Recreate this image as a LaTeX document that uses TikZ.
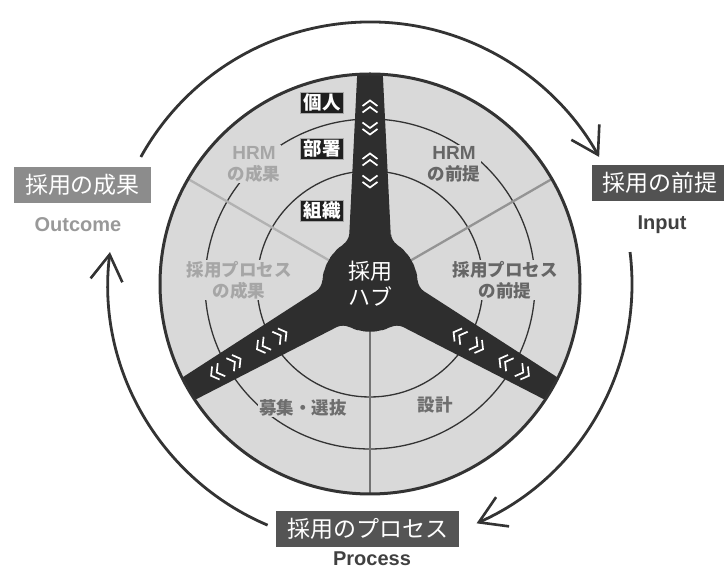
\documentclass[tikz,border=0pt]{standalone}
\usepackage{fontspec}
\setmainfont{Noto Sans CJK JP}
\newfontfamily\lat{Liberation Sans}
\usetikzlibrary{arrows.meta}
\definecolor{disk}{HTML}{D9D9D9}
\definecolor{ink}{HTML}{333333}
\definecolor{spokec}{HTML}{2E2E2E}
\definecolor{lightg}{HTML}{A6A6A6}
\definecolor{darkg}{HTML}{666666}
\definecolor{midg}{HTML}{6E6E6E}
\tikzset{
  ring/.style={draw=ink, line width=1.3pt},
  divider/.style={line width=2.3pt},
  chev/.style={draw=white, line width=1.7pt, line join=miter},
  seglabel/.style={fill=disk, inner sep=1pt, align=center,
    font=\bfseries\fontsize{17.5}{21}\selectfont},
  levelbox/.style={fill=black!88, draw=black!35, line width=0.6pt, text=white,
    inner xsep=3pt, inner ysep=1.5pt, font=\bfseries\fontsize{18.5}{20}\selectfont},
  outerbox/.style={text=white, minimum height=36pt, inner xsep=11pt, inner ysep=4pt,
    font=\fontsize{23}{26}\selectfont},
  engl/.style={font=\lat\bfseries\fontsize{20}{22}\selectfont, anchor=base, inner sep=0.5pt},
  cyc/.style={draw=ink, line width=2.8pt,
    -{Straight Barb[length=26pt, width=32pt, line width=2.6pt]}}
}
\begin{document}
\begin{tikzpicture}[x=1pt,y=1pt]
\useasboundingbox (0,0) rectangle (724,572);
\coordinate (C) at (370,288);

% disk and rings
\fill[disk] (C) circle[radius=210];
\draw[ring] (C) circle[radius=113];
\draw[ring] (C) circle[radius=165];

% divider lines
\draw[divider, color=black!42] ([shift={(30:45)}]C) -- ([shift={(30:209)}]C);
\draw[divider, color=black!30] ([shift={(150:45)}]C) -- ([shift={(150:209)}]C);
\draw[divider, color=black!55] ([shift={(270:45)}]C) -- ([shift={(270:209)}]C);

% hub and spokes
\begin{scope}
\clip (C) circle[radius=209];
\fill[spokec, rounded corners=7pt] ([shift={(64:48)}]C)
  \foreach \a in {90,210,330} {
    -- ([shift={(\a-26:48)}]C)
    -- ([shift={(\a-2.9:232)}]C)
    -- ([shift={(\a+2.9:232)}]C)
    -- ([shift={(\a+26:48)}]C)
    \foreach \b in {37,48,60,72,83} { -- ([shift={(\a+\b:48)}]C) }
  } -- cycle;
\end{scope}

% outer circle
\draw[draw=ink, line width=3pt] (C) circle[radius=210];

% chevrons on the spokes
\foreach \a in {90,210,330} {
  \begin{scope}[shift={(C)}, rotate=\a]
    \foreach \d/\s in {179/1, 154/-1, 126/1, 101/-1} {
      \begin{scope}[shift={(\d,0)}, xscale=\s]
        \draw[chev] (-1,-7.5) -- (4.5,0) -- (-1,7.5) (-7.5,-7.5) -- (-2,0) -- (-7.5,7.5);
      \end{scope}
    }
  \end{scope}
}

% hub text
\node[text=white, align=center, font=\fontsize{22}{26}\selectfont] (hub) at (370,288) {採用\\ハブ};

% level labels on top spoke
\node[levelbox] (kojin) at (322,469) {個人};
\node[levelbox] (busho) at (322,423) {部署};
\node[levelbox] (soshiki) at (322,361) {組織};

% segment labels
\node[seglabel, text=lightg] (hrmout) at (254,408) {{\lat\bfseries\fontsize{19}{21}\selectfont HRM}\\の成果};
\node[seglabel, text=darkg] (hrmin) at (454,408) {{\lat\bfseries\fontsize{19}{21}\selectfont HRM}\\の前提};
\node[seglabel, text=lightg] (procout) at (239,292) {採用プロセス\\の成果};
\node[seglabel, text=darkg] (procin) at (505,292) {採用プロセス\\の前提};
\node[seglabel, text=midg] (boshu) at (303,164) {募集・選抜};
\node[seglabel, text=midg] (sekkei) at (435,167) {設計};

% outer labels
\node[outerbox, fill=black!45] (outcomebox) at (82.5,387) {採用の成果};
\node[engl, text=black!40] (outcome) at (78,340) {Outcome};
\node[outerbox, fill=black!68] (inputbox) at (660,389) {採用の前提};
\node[engl, text=black!75] (input) at (662,342) {Input};
\node[outerbox, fill=black!67] (processbox) at (367.5,43) {採用のプロセス};
\node[engl, text=black!75] (process) at (372,6) {Process};

% cycle arrows
\draw[cyc] ([shift={(151:262)}]C) arc[start angle=151, end angle=29, radius=262];
\draw[cyc] ([shift={(7:262)}]C) arc[start angle=7, end angle=-66, radius=262];
\draw[cyc] ([shift={(247:262)}]C) arc[start angle=247, end angle=173, radius=262];
\end{tikzpicture}
\end{document}
